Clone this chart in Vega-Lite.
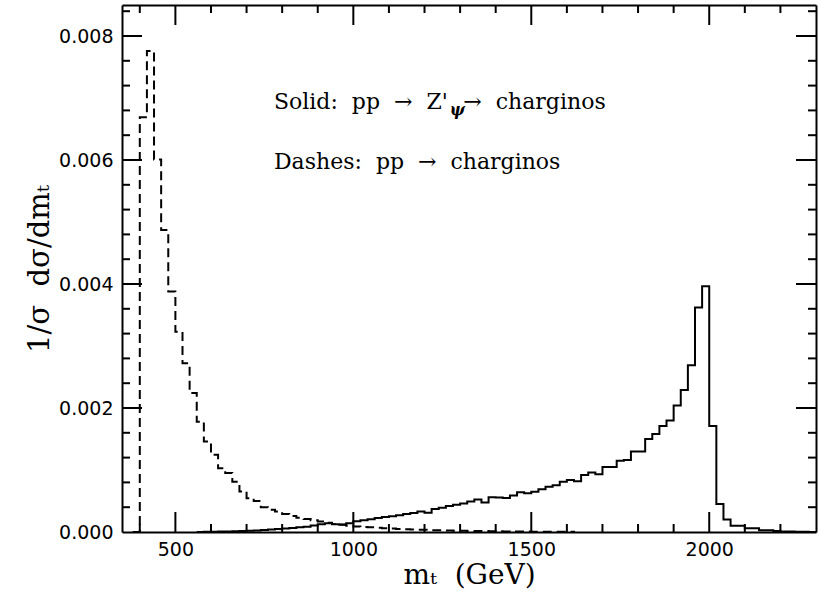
{
  "$schema": "https://vega.github.io/schema/vega-lite/v6.json",
  "autosize": "none",
  "width": 694,
  "height": 527,
  "padding": {"left": 122, "top": 5, "right": 16, "bottom": 60},
  "config": {
    "view": {"stroke": null},
    "axis": {"grid": false, "domainColor": "black", "domainWidth": 2, "labelColor": "black", "titleColor": "black"}
  },
  "datasets": {
    "solid": [
      {"m": 560, "v": 0}, {"m": 580, "v": 0.000003}, {"m": 600, "v": 0.000005}, {"m": 620, "v": 0.000007},
      {"m": 640, "v": 0.00001}, {"m": 660, "v": 0.000012}, {"m": 680, "v": 0.000016}, {"m": 700, "v": 0.00002},
      {"m": 720, "v": 0.000025}, {"m": 740, "v": 0.000032}, {"m": 760, "v": 0.00004}, {"m": 780, "v": 0.000048},
      {"m": 800, "v": 0.000058}, {"m": 820, "v": 0.000065}, {"m": 840, "v": 0.000075}, {"m": 860, "v": 0.000085},
      {"m": 880, "v": 0.000105}, {"m": 900, "v": 0.000125}, {"m": 920, "v": 0.00014}, {"m": 940, "v": 0.000125},
      {"m": 960, "v": 0.000118}, {"m": 980, "v": 0.00014}, {"m": 1000, "v": 0.000175}, {"m": 1020, "v": 0.00019},
      {"m": 1040, "v": 0.000205}, {"m": 1060, "v": 0.000225}, {"m": 1080, "v": 0.00024}, {"m": 1100, "v": 0.000255},
      {"m": 1120, "v": 0.00027}, {"m": 1140, "v": 0.00029}, {"m": 1160, "v": 0.000305}, {"m": 1180, "v": 0.00033},
      {"m": 1200, "v": 0.00031}, {"m": 1220, "v": 0.00037}, {"m": 1240, "v": 0.00039}, {"m": 1260, "v": 0.00042},
      {"m": 1280, "v": 0.00044}, {"m": 1300, "v": 0.00046}, {"m": 1320, "v": 0.00049}, {"m": 1340, "v": 0.000525},
      {"m": 1360, "v": 0.000475}, {"m": 1380, "v": 0.00056}, {"m": 1400, "v": 0.000555}, {"m": 1420, "v": 0.00055},
      {"m": 1440, "v": 0.00059}, {"m": 1460, "v": 0.00064}, {"m": 1480, "v": 0.000625}, {"m": 1500, "v": 0.00065},
      {"m": 1520, "v": 0.00069}, {"m": 1540, "v": 0.00073}, {"m": 1560, "v": 0.000755}, {"m": 1580, "v": 0.00081},
      {"m": 1600, "v": 0.00084}, {"m": 1620, "v": 0.00082}, {"m": 1640, "v": 0.00092}, {"m": 1660, "v": 0.00096},
      {"m": 1680, "v": 0.00093}, {"m": 1700, "v": 0.00105}, {"m": 1720, "v": 0.00105}, {"m": 1740, "v": 0.00115},
      {"m": 1760, "v": 0.00116}, {"m": 1780, "v": 0.0013}, {"m": 1800, "v": 0.0013}, {"m": 1820, "v": 0.0015},
      {"m": 1840, "v": 0.00158}, {"m": 1860, "v": 0.00171}, {"m": 1880, "v": 0.0018}, {"m": 1900, "v": 0.00204},
      {"m": 1920, "v": 0.00229}, {"m": 1940, "v": 0.00269}, {"m": 1960, "v": 0.00362}, {"m": 1980, "v": 0.003965},
      {"m": 2000, "v": 0.00171}, {"m": 2020, "v": 0.00045}, {"m": 2040, "v": 0.0002}, {"m": 2060, "v": 0.0001},
      {"m": 2080, "v": 0.0001}, {"m": 2100, "v": 0.00006}, {"m": 2120, "v": 0.00006}, {"m": 2140, "v": 0.00003},
      {"m": 2160, "v": 0.00003}, {"m": 2180, "v": 0.000015}, {"m": 2200, "v": 0.00001}, {"m": 2220, "v": 0.000007},
      {"m": 2240, "v": 0.000005}, {"m": 2260, "v": 0.000003}, {"m": 2280, "v": 0.000002}, {"m": 2300, "v": 0}
    ],
    "dashed": [
      {"m": 380, "v": 0}, {"m": 400, "v": 0.00669}, {"m": 420, "v": 0.00776}, {"m": 440, "v": 0.00601},
      {"m": 460, "v": 0.00487}, {"m": 480, "v": 0.00388}, {"m": 500, "v": 0.00323}, {"m": 520, "v": 0.00272},
      {"m": 540, "v": 0.00224}, {"m": 560, "v": 0.00178}, {"m": 580, "v": 0.00146}, {"m": 600, "v": 0.001245},
      {"m": 620, "v": 0.00103}, {"m": 640, "v": 0.00095}, {"m": 660, "v": 0.00081}, {"m": 680, "v": 0.000655},
      {"m": 700, "v": 0.000545}, {"m": 720, "v": 0.0005}, {"m": 740, "v": 0.0004}, {"m": 760, "v": 0.00036},
      {"m": 780, "v": 0.00033}, {"m": 800, "v": 0.00029}, {"m": 820, "v": 0.00026}, {"m": 840, "v": 0.00023},
      {"m": 860, "v": 0.00021}, {"m": 880, "v": 0.00019}, {"m": 900, "v": 0.00017}, {"m": 920, "v": 0.00015},
      {"m": 940, "v": 0.00013}, {"m": 960, "v": 0.00012}, {"m": 980, "v": 0.0001}, {"m": 1000, "v": 0.00009},
      {"m": 1020, "v": 0.00008}, {"m": 1040, "v": 0.000075}, {"m": 1060, "v": 0.00007}, {"m": 1080, "v": 0.00006},
      {"m": 1100, "v": 0.000055}, {"m": 1120, "v": 0.00005}, {"m": 1140, "v": 0.000045}, {"m": 1160, "v": 0.00004},
      {"m": 1180, "v": 0.000038}, {"m": 1200, "v": 0.000035}, {"m": 1220, "v": 0.00003}, {"m": 1240, "v": 0.000028},
      {"m": 1260, "v": 0.000025}, {"m": 1280, "v": 0.000022}, {"m": 1300, "v": 0.00002}, {"m": 1320, "v": 0.000018},
      {"m": 1340, "v": 0.000016}, {"m": 1360, "v": 0.000015}, {"m": 1380, "v": 0.000013}, {"m": 1400, "v": 0.000012},
      {"m": 1420, "v": 0.00001}, {"m": 1440, "v": 0.000009}, {"m": 1460, "v": 0.000008}, {"m": 1480, "v": 0.000007},
      {"m": 1500, "v": 0.000006}, {"m": 1540, "v": 0.000004}, {"m": 1580, "v": 0.000003}, {"m": 1620, "v": 0}
    ],
    "xmajor": [{"m": 500}, {"m": 1000}, {"m": 1500}, {"m": 2000}],
    "xminor": [{"m": 400}, {"m": 600}, {"m": 700}, {"m": 800}, {"m": 900}, {"m": 1100}, {"m": 1200}, {"m": 1300}, {"m": 1400}, {"m": 1600}, {"m": 1700}, {"m": 1800}, {"m": 1900}, {"m": 2100}, {"m": 2200}],
    "ymajor": [{"v": 0.002}, {"v": 0.004}, {"v": 0.006}, {"v": 0.008}],
    "yminor": [{"v": 0.0004}, {"v": 0.0008}, {"v": 0.0012}, {"v": 0.0016}, {"v": 0.0024}, {"v": 0.0028}, {"v": 0.0032}, {"v": 0.0036}, {"v": 0.0044}, {"v": 0.0048}, {"v": 0.0052}, {"v": 0.0056}, {"v": 0.0064}, {"v": 0.0068}, {"v": 0.0072}, {"v": 0.0076}, {"v": 0.0084}],
    "notes": [
      {"m": 777, "v": 0.00682, "t": "Solid:\u00a0 pp\u00a0 →\u00a0 Z'"},
      {"m": 777, "v": 0.00585, "t": "Dashes:\u00a0 pp\u00a0 →\u00a0 charginos"}
    ],
    "notes2": [
      {"m": 1309, "v": 0.00682, "t": "→\u00a0 charginos"}
    ],
    "sub": [
      {"m": 1292, "v": 0.00682, "t": "ψ"}
    ]
  },
  "resolve": {"axis": {"x": "independent", "y": "independent"}},
  "layer": [
    {
      "data": {"name": "solid"},
      "mark": {"type": "line", "interpolate": "step-after", "color": "black", "strokeWidth": 2, "clip": true},
      "encoding": {
        "x": {"field": "m", "type": "quantitative", "scale": {"domain": [350, 2300], "nice": false, "zero": false},
          "axis": {"orient": "bottom", "values": [500, 1000, 1500, 2000], "format": "d", "ticks": false, "labelFont": "DejaVu Sans", "labelFontSize": 19, "labelPadding": 8,
            "title": "mₜ\u00a0 (GeV)", "titleFont": "DejaVu Serif", "titleFontSize": 28, "titleFontWeight": "normal", "titlePadding": 2}},
        "y": {"field": "v", "type": "quantitative", "scale": {"domain": [0, 0.0085], "nice": false, "zero": true},
          "axis": {"orient": "left", "values": [0, 0.002, 0.004, 0.006, 0.008], "format": ".3f", "ticks": false, "labelFont": "DejaVu Sans", "labelFontSize": 19, "labelPadding": 9,
            "title": "1/σ\u00a0 dσ/dmₜ", "titleFont": "DejaVu Serif", "titleFontSize": 29, "titleFontWeight": "normal", "titlePadding": 4}}
      }
    },
    {
      "data": {"name": "dashed"},
      "mark": {"type": "line", "interpolate": "step-after", "color": "black", "strokeWidth": 2, "strokeDash": [9, 5], "clip": true},
      "encoding": {
        "x": {"field": "m", "type": "quantitative", "axis": {"orient": "top", "values": [500], "labels": false, "ticks": false, "title": null}},
        "y": {"field": "v", "type": "quantitative", "axis": {"orient": "right", "values": [0.002], "labels": false, "ticks": false, "title": null}}
      }
    },
    {
      "data": {"name": "xmajor"},
      "mark": {"type": "tick", "orient": "vertical", "size": 20, "thickness": 2, "yOffset": -10, "color": "black", "opacity": 1},
      "encoding": {"x": {"field": "m", "type": "quantitative", "axis": null}, "y": {"datum": 0, "type": "quantitative", "axis": null}}
    },
    {
      "data": {"name": "xmajor"},
      "mark": {"type": "tick", "orient": "vertical", "size": 20, "thickness": 2, "yOffset": 10, "color": "black", "opacity": 1},
      "encoding": {"x": {"field": "m", "type": "quantitative", "axis": null}, "y": {"datum": 0.0085, "type": "quantitative", "axis": null}}
    },
    {
      "data": {"name": "xminor"},
      "mark": {"type": "tick", "orient": "vertical", "size": 8, "thickness": 2, "yOffset": -4, "color": "black", "opacity": 1},
      "encoding": {"x": {"field": "m", "type": "quantitative", "axis": null}, "y": {"datum": 0, "type": "quantitative", "axis": null}}
    },
    {
      "data": {"name": "xminor"},
      "mark": {"type": "tick", "orient": "vertical", "size": 8, "thickness": 2, "yOffset": 4, "color": "black", "opacity": 1},
      "encoding": {"x": {"field": "m", "type": "quantitative", "axis": null}, "y": {"datum": 0.0085, "type": "quantitative", "axis": null}}
    },
    {
      "data": {"name": "ymajor"},
      "mark": {"type": "tick", "orient": "horizontal", "size": 20, "thickness": 2, "xOffset": 10, "color": "black", "opacity": 1},
      "encoding": {"y": {"field": "v", "type": "quantitative", "axis": null}, "x": {"datum": 350, "type": "quantitative", "axis": null}}
    },
    {
      "data": {"name": "ymajor"},
      "mark": {"type": "tick", "orient": "horizontal", "size": 20, "thickness": 2, "xOffset": -10, "color": "black", "opacity": 1},
      "encoding": {"y": {"field": "v", "type": "quantitative", "axis": null}, "x": {"datum": 2300, "type": "quantitative", "axis": null}}
    },
    {
      "data": {"name": "yminor"},
      "mark": {"type": "tick", "orient": "horizontal", "size": 8, "thickness": 2, "xOffset": 4, "color": "black", "opacity": 1},
      "encoding": {"y": {"field": "v", "type": "quantitative", "axis": null}, "x": {"datum": 350, "type": "quantitative", "axis": null}}
    },
    {
      "data": {"name": "yminor"},
      "mark": {"type": "tick", "orient": "horizontal", "size": 8, "thickness": 2, "xOffset": -4, "color": "black", "opacity": 1},
      "encoding": {"y": {"field": "v", "type": "quantitative", "axis": null}, "x": {"datum": 2300, "type": "quantitative", "axis": null}}
    },
    {
      "data": {"name": "notes"},
      "mark": {"type": "text", "align": "left", "baseline": "alphabetic", "font": "DejaVu Serif", "fontSize": 22, "color": "black"},
      "encoding": {
        "x": {"field": "m", "type": "quantitative", "axis": null},
        "y": {"field": "v", "type": "quantitative", "axis": null},
        "text": {"field": "t"}
      }
    },
    {
      "data": {"name": "notes2"},
      "mark": {"type": "text", "align": "left", "baseline": "alphabetic", "font": "DejaVu Serif", "fontSize": 22, "color": "black"},
      "encoding": {
        "x": {"field": "m", "type": "quantitative", "axis": null},
        "y": {"field": "v", "type": "quantitative", "axis": null},
        "text": {"field": "t"}
      }
    },
    {
      "data": {"name": "sub"},
      "mark": {"type": "text", "align": "center", "baseline": "alphabetic", "dy": 6, "font": "DejaVu Serif", "fontSize": 16, "fontStyle": "italic", "fontWeight": "bold", "color": "black"},
      "encoding": {
        "x": {"field": "m", "type": "quantitative", "axis": null},
        "y": {"field": "v", "type": "quantitative", "axis": null},
        "text": {"field": "t"}
      }
    }
  ]
}
